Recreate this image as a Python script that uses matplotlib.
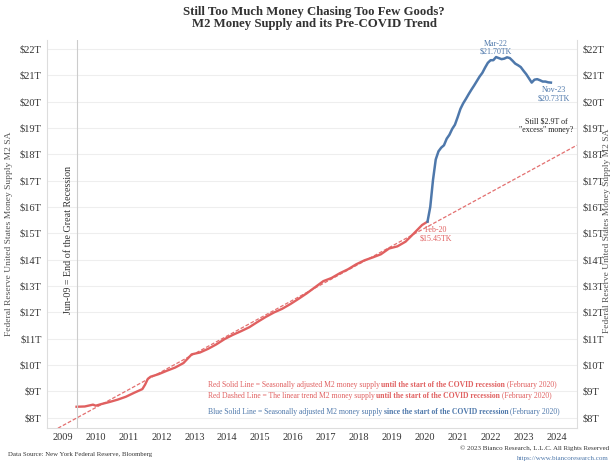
import numpy as np
import matplotlib
matplotlib.use("Agg")
import matplotlib.pyplot as plt

# --------- Données (T$) ---------
# M2 avant COVID (rouge)
red_months = ["2009-06", "2009-09", "2009-12", "2010-01", "2010-03", "2010-06", "2010-09",
              "2010-12", "2011-03", "2011-06", "2011-07", "2011-08", "2011-09", "2011-12",
              "2012-03", "2012-06", "2012-09", "2012-12", "2013-03", "2013-06", "2013-09",
              "2013-12", "2014-03", "2014-06", "2014-09", "2014-12", "2015-03", "2015-06",
              "2015-09", "2015-12", "2016-03", "2016-06", "2016-09", "2016-12", "2017-03",
              "2017-06", "2017-09", "2017-12", "2018-03", "2018-06", "2018-09", "2018-12",
              "2019-03", "2019-06", "2019-09", "2019-12", "2020-02"]
red_values = [8.42, 8.43, 8.50, 8.46, 8.52, 8.60, 8.69,
              8.80, 8.95, 9.09, 9.26, 9.48, 9.56, 9.66,
              9.79, 9.91, 10.08, 10.41, 10.48, 10.62, 10.79,
              10.99, 11.15, 11.29, 11.44, 11.64, 11.83, 12.00,
              12.14, 12.32, 12.52, 12.73, 12.96, 13.19, 13.31,
              13.49, 13.64, 13.83, 13.98, 14.09, 14.21, 14.43,
              14.51, 14.69, 15.00, 15.32, 15.45]

# M2 depuis COVID (bleu)
blue_months = ["2020-02", "2020-03", "2020-04", "2020-05", "2020-06", "2020-07", "2020-08",
               "2020-09", "2020-10", "2020-11", "2020-12", "2021-01", "2021-02", "2021-03",
               "2021-04", "2021-05", "2021-06", "2021-07", "2021-08", "2021-09", "2021-10",
               "2021-11", "2021-12", "2022-01", "2022-02", "2022-03", "2022-04", "2022-05",
               "2022-06", "2022-07", "2022-08", "2022-09", "2022-10", "2022-11", "2022-12",
               "2023-01", "2023-02", "2023-03", "2023-04", "2023-05", "2023-06", "2023-07",
               "2023-08", "2023-09", "2023-10", "2023-11"]
blue_values = [15.45, 16.01, 17.03, 17.81, 18.12, 18.26, 18.35,
               18.60, 18.75, 18.97, 19.13, 19.42, 19.73, 19.94,
               20.11, 20.29, 20.46, 20.62, 20.79, 20.96, 21.10,
               21.30, 21.48, 21.58, 21.58, 21.70, 21.66, 21.62,
               21.64, 21.69, 21.66, 21.56, 21.45, 21.39, 21.32,
               21.18, 21.05, 20.89, 20.73, 20.84, 20.86, 20.82,
               20.77, 20.77, 20.74, 20.73]

# tendance linéaire (extrémités)
trend_years = [2008.55, 2024.62]
trend_values = [7.40, 18.35]

year_ticks = list(range(2009, 2025))
y_ticks = list(range(8, 23))

RED = "#e06060"
BLUE = "#4e78ab"
GRAY = "#555555"
SERIF = "Liberation Serif"


def to_year(m):
    y, mo = m.split("-")
    return int(y) + (int(mo) - 1) / 12.0


def chain_text(ax, x, y, pieces, size):
    # enchaîne plusieurs morceaux de texte (normal / gras) sur une ligne
    prev = ax.text(x, y, pieces[0][0], transform=ax.transAxes, fontsize=size,
                   color=pieces[0][1], fontweight=pieces[0][2], family=SERIF,
                   ha="left", va="bottom")
    for s, c, w in pieces[1:]:
        prev = ax.annotate(s, xy=(1, 0), xycoords=prev, fontsize=size, color=c,
                           fontweight=w, family=SERIF, ha="left", va="bottom")
    return prev


red_x = [to_year(m) for m in red_months]
blue_x = [to_year(m) for m in blue_months]

fig = plt.figure(figsize=(6.11, 4.62), dpi=100)
ax = fig.add_axes([0.077, 0.074, 0.867, 0.839])

ax.plot(trend_years, trend_values, color=RED, lw=0.9, ls=(0, (3, 1.5)), alpha=0.9)
ax.plot(red_x, red_values, color=RED, lw=1.7)
ax.plot(blue_x, blue_values, color=BLUE, lw=1.8)

ax.axvline(to_year("2009-06"), color="#cccccc", lw=0.8)

ax.set_xlim(2008.52, 2024.62)
ax.set_ylim(7.62, 22.34)
ax.set_xticks(year_ticks)
ax.set_xticklabels([str(y) for y in year_ticks], family=SERIF, fontsize=7.5, color="#333333")
ax.set_yticks(y_ticks)
ax.set_yticklabels([f"${v}T" for v in y_ticks], family=SERIF, fontsize=7.5, color="#333333")
ax.tick_params(axis="both", length=0, pad=4)
ax.tick_params(axis="y", right=True, labelright=True)
ax.grid(axis="y", color="#eeeeee", lw=0.8)
ax.set_axisbelow(True)
ax.spines["top"].set_visible(False)
for side in ["left", "right", "bottom"]:
    ax.spines[side].set_color("#dddddd")

ax.set_ylabel("Federal Reserve United States Money Supply M2 SA", family=SERIF,
              fontsize=6.8, color=GRAY, labelpad=5)
fig.text(0.993, 0.50, "Federal Reserve United States Money Supply M2 SA", family=SERIF,
         fontsize=6.8, color=GRAY, rotation=90, ha="center", va="center")

fig.text(0.514, 0.988, "Still Too Much Money Chasing Too Few Goods?\nM2 Money Supply and its Pre-COVID Trend",
         family=SERIF, fontsize=9.2, fontweight="bold", color="#333333",
         ha="center", va="top", linespacing=1.0)

# annotations
ax.text(to_year("2009-06") - 0.12, 14.75, "Jun-09 = End of the Great Recession", rotation=90,
        family=SERIF, fontsize=7.2, color="#333333", ha="right", va="center")
ax.text(to_year("2022-03"), 21.75, "Mar-22\n$21.70TK", family=SERIF, fontsize=5.8, color=BLUE,
        ha="center", va="bottom", linespacing=1.0)
ax.text(to_year("2023-11") + 0.1, 20.6, "Nov-23\n$20.73TK", family=SERIF, fontsize=5.8, color=BLUE,
        ha="center", va="top", linespacing=1.0)
ax.text(2023.7, 19.4, "Still $2.9T of\n\"excess\" money?", family=SERIF, fontsize=5.8,
        color="#222222", ha="center", va="top", linespacing=1.0)
ax.text(to_year("2020-02") + 0.25, 15.28, "Feb-20\n$15.45TK", family=SERIF, fontsize=5.8, color=RED,
        ha="center", va="top", linespacing=1.0)

# légende texte
bold_txt = "until the start of the COVID recession"
chain_text(ax, 0.303, 0.099, [
    ("Red Solid Line = Seasonally adjusted M2 money supply ", RED, "normal"),
    (bold_txt, RED, "bold"), (" (February 2020)", RED, "normal")], 5.5)
chain_text(ax, 0.303, 0.071, [
    ("Red Dashed Line = The linear trend M2 money supply ", RED, "normal"),
    (bold_txt, RED, "bold"), (" (February 2020)", RED, "normal")], 5.5)
chain_text(ax, 0.303, 0.031, [
    ("Blue Solid Line = Seasonally adjusted M2 money supply ", BLUE, "normal"),
    ("since the start of the COVID recession", BLUE, "bold"), (" (February 2020)", BLUE, "normal")], 5.5)

# pied de page
fig.text(0.013, 0.011, "Data Source: New York Federal Reserve, Bloomberg", family=SERIF,
         fontsize=4.9, color="#333333", ha="left", va="bottom")
fig.text(0.997, 0.023, "\u00a9 2023 Bianco Research, L.L.C. All Rights Reserved", family=SERIF,
         fontsize=5.0, color="#333333", ha="right", va="bottom")
fig.text(0.997, 0.003, "https://www.biancoresearch.com", family=SERIF,
         fontsize=5.0, color=BLUE, ha="right", va="bottom")

fig.savefig("out.png", dpi=100)
